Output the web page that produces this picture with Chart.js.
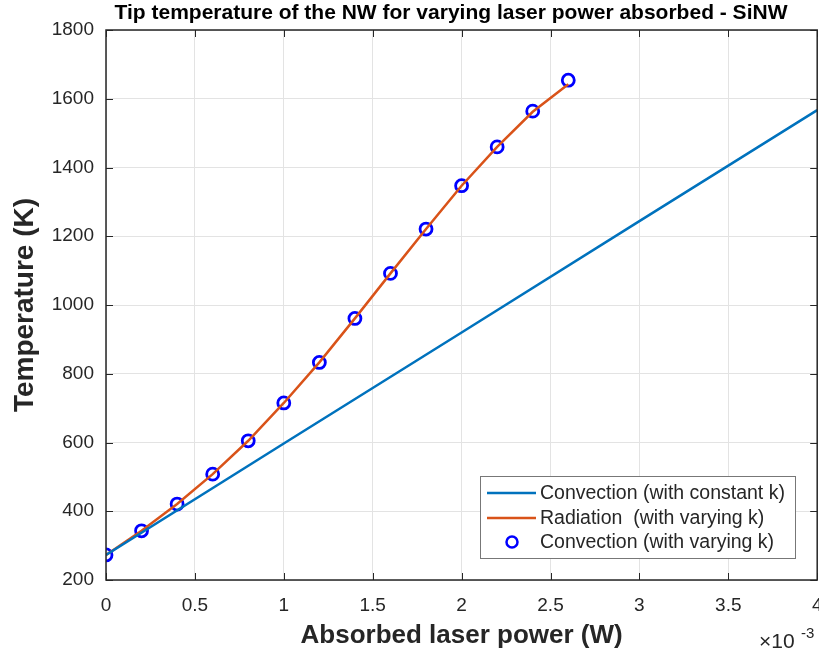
<!DOCTYPE html>
<html>
<head>
<meta charset="utf-8">
<script src="https://cdn.jsdelivr.net/npm/chart.js@4.4.1/dist/chart.umd.min.js"></script>
<style>
  html, body { margin: 0; padding: 0; background: #fff; overflow: hidden; }
  #outer { width: 819px; height: 653px; overflow: hidden; }
  #wrap { width: 826px; height: 653px; position: relative; }
</style>
</head>
<body>
<div id="outer"><div id="wrap"><canvas id="chart"></canvas></div></div>
<script>
// x values are in units of 1e-3 W (axis shows x10^-3)
const powerVarying = [0, 0.2, 0.4, 0.6, 0.8, 1.0, 1.2, 1.4, 1.6, 1.8, 2.0, 2.2, 2.4, 2.6];
const tempRadiation = [273, 343, 421, 508, 605, 715, 833, 961, 1092, 1221, 1347, 1460, 1562, 1642];
const tempConvVarying = [273, 343, 421, 508, 605, 715, 833, 961, 1092, 1221, 1347, 1460, 1564, 1654];
const powerConstant = [0, 1, 2, 3, 4];
const tempConvConstant = [273, 597, 920, 1244, 1567];
const xTicks = [0, 0.5, 1, 1.5, 2, 2.5, 3, 3.5, 4];
const yTicks = [200, 400, 600, 800, 1000, 1200, 1400, 1600, 1800];

const txt = '#262626';
const fam = '"Liberation Sans", Arial, sans-serif';

function pts(xs, ys) {
    return xs.map((x, i) => ({ x: x, y: ys[i] }));
}

// frame, inward ticks, title, legend, exponent
const extras = {
    id: 'extras',
    afterDraw(chart) {
        const ctx = chart.ctx;
        const a = chart.chartArea;
        const sx = chart.scales.x, sy = chart.scales.y;
        ctx.save();
        ctx.strokeStyle = txt;
        ctx.lineWidth = 1;
        ctx.beginPath();
        xTicks.forEach(v => {
            const px = Math.round(sx.getPixelForValue(v)) + 0.5;
            ctx.moveTo(px, a.bottom); ctx.lineTo(px, a.bottom - 7);
            ctx.moveTo(px, a.top); ctx.lineTo(px, a.top + 7);
        });
        yTicks.forEach(v => {
            const py = Math.round(sy.getPixelForValue(v)) + 0.5;
            ctx.moveTo(a.left, py); ctx.lineTo(a.left + 7, py);
            ctx.moveTo(a.right, py); ctx.lineTo(a.right - 7, py);
        });
        ctx.stroke();
        ctx.lineWidth = 1.5;
        ctx.strokeRect(a.left, a.top, a.right - a.left, a.bottom - a.top);

        // title
        ctx.fillStyle = '#000';
        ctx.font = 'bold 21px ' + fam;
        ctx.textAlign = 'center';
        ctx.textBaseline = 'middle';
        ctx.fillText('Tip temperature of the NW for varying laser power absorbed - SiNW', 451, 13);

        // x10^-3
        ctx.fillStyle = txt;
        ctx.textAlign = 'left';
        ctx.textBaseline = 'alphabetic';
        ctx.font = '21px ' + fam;
        ctx.fillText('\u00d710', 759, 648);
        ctx.font = '15px ' + fam;
        ctx.fillText('-3', 801, 638);

        // legend
        const lx = 480, ly = 476, lw = 315, lh = 82;
        ctx.fillStyle = '#fff';
        ctx.fillRect(lx, ly, lw, lh);
        ctx.strokeStyle = '#777';
        ctx.lineWidth = 1;
        ctx.strokeRect(lx + 0.5, ly + 0.5, lw, lh);
        const rows = [493, 518, 542];
        ctx.font = '19.5px ' + fam;
        ctx.textBaseline = 'middle';
        chart.data.datasets.forEach((ds, i) => {
            const y = rows[i];
            ctx.strokeStyle = ds.borderColor;
            ctx.lineWidth = 2.5;
            ctx.beginPath();
            if (ds.showLine === false) {
                ctx.arc(512, y, 5.5, 0, Math.PI * 2);
            } else {
                ctx.moveTo(487, y); ctx.lineTo(536, y);
            }
            ctx.stroke();
            ctx.fillStyle = txt;
            ctx.fillText(ds.label, 540, y + 1);
        });
        ctx.restore();
    }
};

new Chart(
    document.getElementById('chart'),
    {
        type: 'scatter',
        plugins: [extras],
        options: {
            responsive: true,
            maintainAspectRatio: false,
            animation: false,
            layout: { padding: { top: 30, right: 0, left: 0, bottom: 0 } },
            plugins: {
                legend: { display: false },
                tooltip: { enabled: false }
            },
            scales: {
                x: {
                    type: 'linear',
                    min: 0,
                    max: 4,
                    afterFit: s => { s.height = 73; s.paddingLeft = 0; s.paddingRight = 0; },
                    afterBuildTicks: s => { s.ticks = xTicks.map(v => ({ value: v })); },
                    ticks: {
                        color: txt,
                        padding: 14,
                        font: { family: fam, size: 19 },
                        callback: v => String(v)
                    },
                    grid: { color: '#e3e3e3', drawTicks: false },
                    border: { display: false },
                    title: {
                        display: true,
                        text: 'Absorbed laser power (W)',
                        color: txt,
                        padding: { bottom: 2, top: 0 },
                        font: { family: fam, size: 26, weight: 'bold' }
                    }
                },
                y: {
                    min: 200,
                    max: 1800,
                    afterFit: s => { s.width = 106; s.paddingTop = 0; s.paddingBottom = 0; },
                    afterBuildTicks: s => { s.ticks = yTicks.map(v => ({ value: v })); },
                    ticks: {
                        color: txt,
                        padding: 12,
                        font: { family: fam, size: 19 },
                        callback: v => String(v)
                    },
                    grid: { color: '#e3e3e3', drawTicks: false },
                    border: { display: false },
                    title: {
                        display: true,
                        text: 'Temperature (K)',
                        color: txt,
                        padding: { top: 8, bottom: 0 },
                        font: { family: fam, size: 28, weight: 'bold' }
                    }
                }
            }
        },
        data: {
            datasets: [
                {
                    label: 'Convection (with constant k)',
                    data: pts(powerConstant, tempConvConstant),
                    showLine: true,
                    borderColor: '#0072BD',
                    borderWidth: 2.5,
                    pointRadius: 0,
                    fill: false
                },
                {
                    label: 'Radiation  (with varying k)',
                    data: pts(powerVarying, tempRadiation),
                    showLine: true,
                    borderColor: '#D95319',
                    borderWidth: 2.5,
                    pointRadius: 0,
                    fill: false
                },
                {
                    label: 'Convection (with varying k)',
                    data: pts(powerVarying, tempConvVarying),
                    showLine: false,
                    borderColor: '#0000FF',
                    backgroundColor: 'rgba(0,0,0,0)',
                    pointRadius: 6,
                    pointBorderWidth: 2.8
                }
            ]
        }
    }
);
</script>
</body>
</html>
